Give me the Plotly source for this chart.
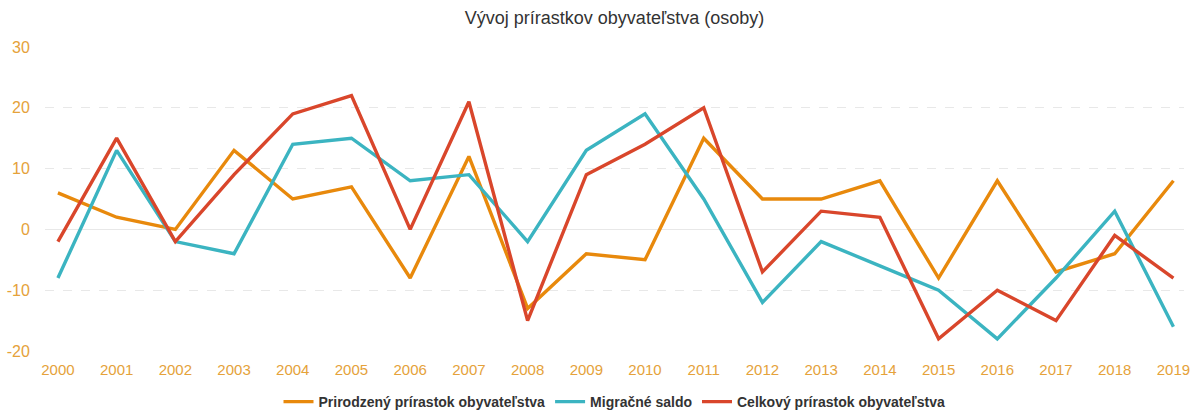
import plotly.graph_objects as go

years = list(range(2000, 2020))
prirodzeny = [6, 2, 0, 13, 5, 7, -8, 12, -13, -4, -5, 15, 5, 5, 8, -8, 8, -7, -4, 8]
migracne = [-8, 13, -2, -4, 14, 15, 8, 9, -2, 13, 19, 5, -12, -2, -6, -10, -18, -8, 3, -16]
celkovy = [-2, 15, -2, 9, 19, 22, 0, 21, -15, 9, 14, 20, -7, 3, 2, -18, -10, -15, -1, -8]
y_ticks = [-20, -10, 0, 10, 20, 30]

names = ["Prirodzený prírastok obyvateľstva", "Migračné saldo", "Celkový prírastok obyvateľstva"]
colors = ["#E8890C", "#3BB4C1", "#D9462B"]
series = [prirodzeny, migracne, celkovy]

fig = go.Figure()
for n, c, s in zip(names, colors, series):
    fig.add_trace(go.Scatter(x=years, y=s, mode="lines", name="<b>" + n + "</b>",
                             line=dict(color=c, width=3.4)))

tickc = "#E5A23A"
font_fam = "Liberation Sans, Arial, sans-serif"
fig.update_layout(
    width=1197, height=412,
    margin=dict(l=45, r=13, t=47, b=61, autoexpand=False),
    paper_bgcolor="white", plot_bgcolor="white",
    font=dict(family=font_fam),
    title=dict(text="Vývoj prírastkov obyvateľstva (osoby)", x=0.5, xref="paper",
               xanchor="center", y=1 - 18 / 412, yanchor="middle",
               font=dict(size=18, color="#333333")),
    xaxis=dict(range=[1999.78, 2019.18], tickmode="array", tickvals=years,
               ticktext=[str(y) for y in years], showgrid=False, zeroline=False,
               showline=False, tickfont=dict(size=15, color=tickc), ticks="outside",
               ticklen=5, tickcolor="rgba(0,0,0,0)", automargin=False),
    yaxis=dict(range=[-20, 30], tickmode="array", tickvals=y_ticks,
               ticktext=[str(v) for v in y_ticks],
               showgrid=True, gridcolor="#E8E8E8", griddash="dash", gridwidth=1,
               zeroline=True, zerolinecolor="#E8E8E8", zerolinewidth=1,
               tickfont=dict(size=16, color=tickc), ticks="outside", ticklen=11,
               tickcolor="rgba(0,0,0,0)", automargin=False),
    legend=dict(orientation="h", x=0.5, xanchor="center", y=-0.168, yanchor="middle",
                font=dict(size=14, color="#333333", family=font_fam),
                itemwidth=30, tracegroupgap=0),
    showlegend=True,
)

fig.write_html("out.html", config={"displayModeBar": False},
               post_script="document.body.style.margin='0';")
